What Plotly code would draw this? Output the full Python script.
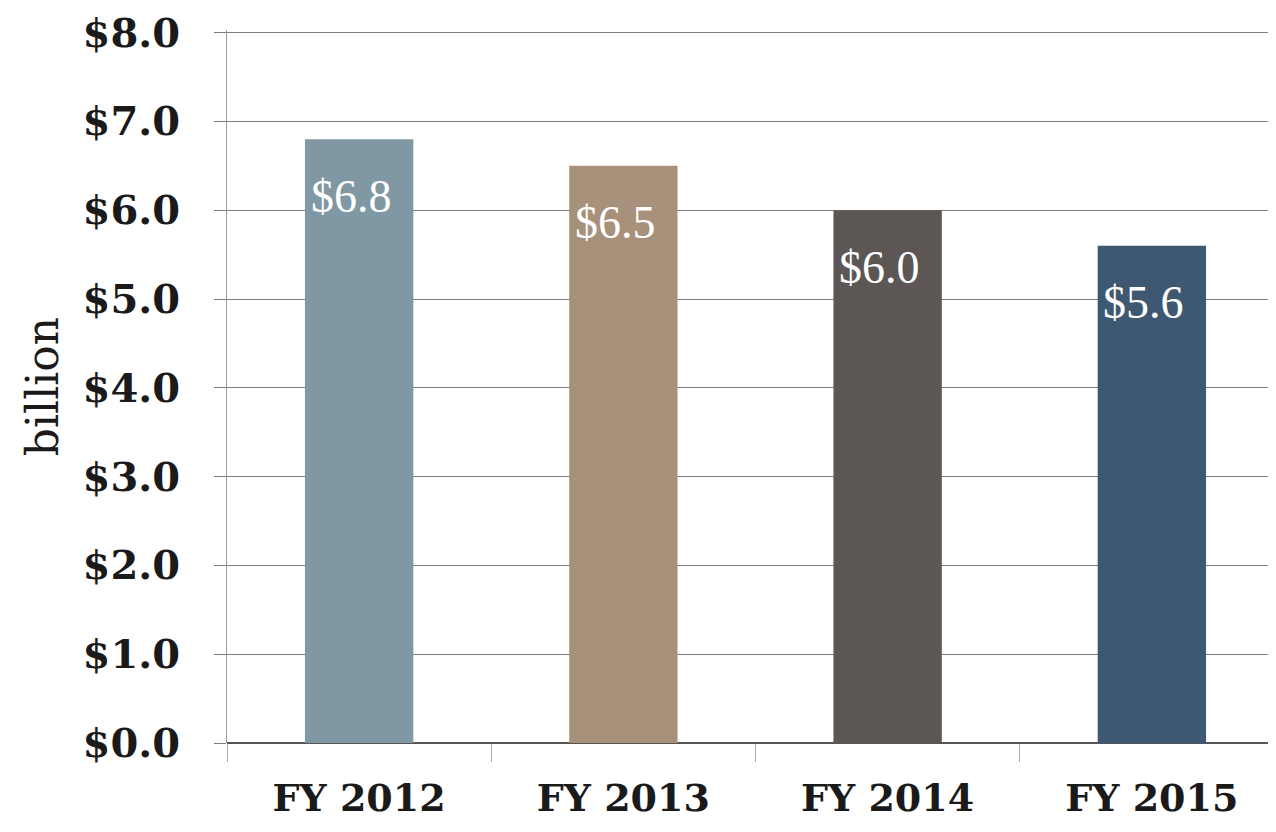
import plotly.graph_objects as go

# data
years = ['FY 2012', 'FY 2013', 'FY 2014', 'FY 2015']
amounts = [6.8, 6.5, 6.0, 5.6]
amount_labels = ['$6.8', '$6.5', '$6.0', '$5.6']
bar_colours = ['#7f98a3', '#a8917a', '#5c5654', '#3d5870']

fig = go.Figure()
fig.add_trace(go.Bar(
    x=years, y=amounts,
    marker=dict(color=bar_colours, line=dict(width=0)),
    width=0.41,
    hoverinfo='skip',
    showlegend=False,
))

# value labels sit a bit below the top of each bar, slightly left of centre
for year, amount, label in zip(years, amounts, amount_labels):
    fig.add_annotation(
        x=year, y=amount, text=label, showarrow=False,
        yshift=-57, xshift=-8,
        font=dict(family='Liberation Serif', size=46, color='white'),
    )

fig.update_layout(
    width=1276, height=832,
    margin=dict(l=219, r=0, t=22, b=97, autoexpand=False),
    paper_bgcolor='white', plot_bgcolor='white',
    bargap=0.59,
)
fig.update_yaxes(
    range=[0, 8.03], tickvals=[0, 1, 2, 3, 4, 5, 6, 7, 8], tickformat='$.1f',
    automargin=False,
    showgrid=True, gridcolor='#7f7f7f', gridwidth=1.2,
    showline=True, linecolor='#9a9a9a', linewidth=1,
    ticks='outside', ticklen=12, tickcolor='#7f7f7f',
    ticklabelstandoff=26,
    tickfont=dict(family='DejaVu Serif', size=40, color='#1a1a1a', weight='bold'),
    title=dict(text='billion', standoff=10,
               font=dict(family='DejaVu Serif', size=44, color='#1a1a1a')),
    zeroline=True, zerolinecolor='#555555', zerolinewidth=1.5,
    fixedrange=True,
)
fig.update_xaxes(
    automargin=False,
    tickson='boundaries', ticks='outside', ticklen=18, tickcolor='#aaaaaa',
    showline=False, showgrid=False,
    ticklabelstandoff=29,
    tickfont=dict(family='DejaVu Serif', size=38, color='#1a1a1a', weight='bold'),
    fixedrange=True,
)

fig.write_html('out.html')
